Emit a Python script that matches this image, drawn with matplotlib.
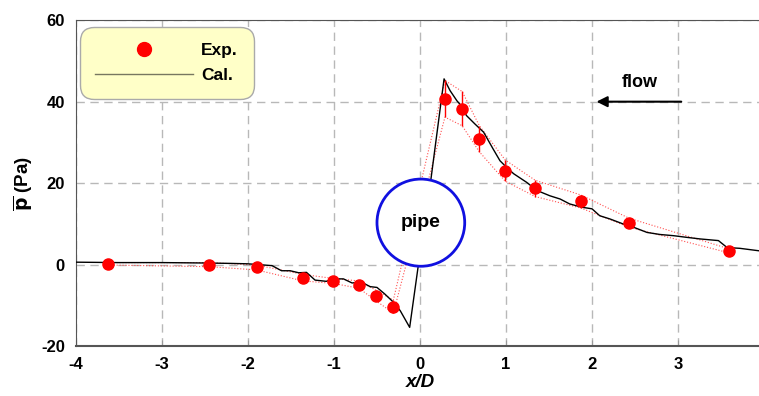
import numpy as np
import matplotlib
matplotlib.use("Agg")
import matplotlib.pyplot as plt
from matplotlib.patches import Ellipse

plt.rcParams['font.family'] = ['Liberation Sans', 'DejaVu Sans']
plt.rcParams['font.weight'] = 'bold'
plt.rcParams['axes.unicode_minus'] = False

# experimental points
exp_x = [-3.63, -2.45, -1.90, -1.36, -1.01, -0.71, -0.51, -0.31,
         0.29, 0.49, 0.69, 0.99, 1.34, 1.87, 2.43, 3.59]
exp_y = [0.2, 0.0, -0.7, -3.2, -4.0, -4.9, -7.6, -10.3,
         40.7, 38.3, 30.9, 23.1, 18.7, 15.5, 10.3, 3.4]
exp_err = [0.3, 0.5, 0.6, 0.8, 0.6, 0.9, 1.3, 1.6,
           4.5, 4.2, 3.2, 2.6, 2.0, 1.6, 1.1, 0.5]

# calculated curve
cal_x = [-4.0, -3.5, -3.0, -2.5, -2.2, -2.0, -1.72, -1.61, -1.51, -1.41, -1.32,
         -1.22, -1.09, -1.01, -0.89, -0.79, -0.68, -0.58, -0.50, -0.41, -0.31,
         -0.23, -0.12, -0.02, 0.12, 0.28, 0.35, 0.43, 0.48, 0.54, 0.64, 0.74,
         0.85, 0.93, 1.02, 1.09, 1.24, 1.36, 1.51, 1.63, 1.74, 1.88, 2.00,
         2.09, 2.21, 2.36, 2.48, 2.64, 2.79, 2.95, 3.10, 3.26, 3.47, 3.57,
         3.72, 3.94, 4.05]
cal_y = [0.6, 0.5, 0.5, 0.4, 0.3, 0.2, -0.25, -1.5, -1.5, -2.0, -1.9,
         -3.8, -4.1, -3.5, -3.5, -4.5, -4.3, -5.4, -5.6, -7.2, -9.2,
         -11.3, -15.4, -0.25, 19.8, 45.6, 42.7, 40.2, 39.0, 36.6, 34.5, 32.5,
         28.4, 25.5, 23.6, 22.3, 20.2, 18.2, 16.9, 16.1, 14.9, 14.1, 13.7,
         12.0, 11.2, 10.0, 9.2, 7.9, 7.4, 7.1, 6.7, 6.3, 5.9, 4.2,
         4.0, 3.4, 3.3]

fig = plt.figure(figsize=(7.59, 3.96), dpi=100)
ax = fig.add_axes([0.1001, 0.126, 0.9065, 0.823])

ex = np.array(exp_x)
ey = np.array(exp_y)
ee = np.array(exp_err)

ax.plot(ex, ey + ee, color='#ff5050', lw=0.8, ls=':', zorder=3)
ax.plot(ex, ey - ee, color='#ff5050', lw=0.8, ls=':', zorder=3)
ax.plot(cal_x, cal_y, color='black', lw=1.0, zorder=4, label='Cal.')
ax.errorbar(ex, ey, yerr=ee, fmt='none', ecolor='red', elinewidth=1.0, zorder=5)
ax.plot(ex, ey, 'o', color='red', ms=8, zorder=6, label='Exp.')

# pipe
pipe = Ellipse((0.01, 10.3), 1.02, 21.4, facecolor='white', edgecolor='#1010e0',
               lw=2.0, zorder=7)
ax.add_patch(pipe)
ax.text(0.01, 10.3, 'pipe', ha='center', va='center', fontsize=14,
        fontweight='bold', zorder=8)

# flow arrow
ax.annotate('', xy=(2.02, 40), xytext=(3.07, 40),
            arrowprops=dict(arrowstyle='-|>', color='black', lw=1.5,
                            mutation_scale=16), zorder=8)
ax.text(2.55, 44.7, 'flow', ha='center', va='center', fontsize=13,
        fontweight='bold')

ax.set_xlim(-4, 4)
ax.set_ylim(-20, 60)
ax.set_xticks(range(-4, 5))
ax.set_yticks(range(-20, 61, 20))
ax.grid(True, color='#b8b8b8', ls=(0, (6, 4)), lw=1.0)
ax.set_axisbelow(True)
ax.tick_params(axis='both', direction='in', length=4, color='#999999',
               labelsize=12, pad=8)
ax.tick_params(axis='y', length=0)
for lab in ax.get_xticklabels() + ax.get_yticklabels():
    lab.set_fontweight('bold')
for side in ['left', 'bottom', 'top']:
    ax.spines[side].set_color('#555555')
ax.spines['bottom'].set_linewidth(1.5)
ax.spines['right'].set_visible(False)

ax.set_xlabel('x/D', fontsize=13.5, fontweight='bold', style='italic', labelpad=1)
ax.set_ylabel(r'$\overline{\mathbf{p}}$ (Pa)', fontsize=13.5, fontweight='bold',
              labelpad=4)

h, l = ax.get_legend_handles_labels()
leg = ax.legend([h[1], h[0]], [l[1], l[0]], loc='upper left',
                bbox_to_anchor=(0.003, 0.985), handlelength=5.6, numpoints=1,
                fontsize=12.5, fancybox=True, facecolor='#ffffc8',
                edgecolor='#aaaaaa', framealpha=1.0, borderpad=0.7,
                labelspacing=0.6, handletextpad=0.5, markerscale=1.25,
                borderaxespad=0.3)
leg.get_frame().set_boxstyle('round', pad=0.2, rounding_size=0.8)
leg.get_lines()[1].set_color('#777760')

fig.savefig('out.png', dpi=100)
